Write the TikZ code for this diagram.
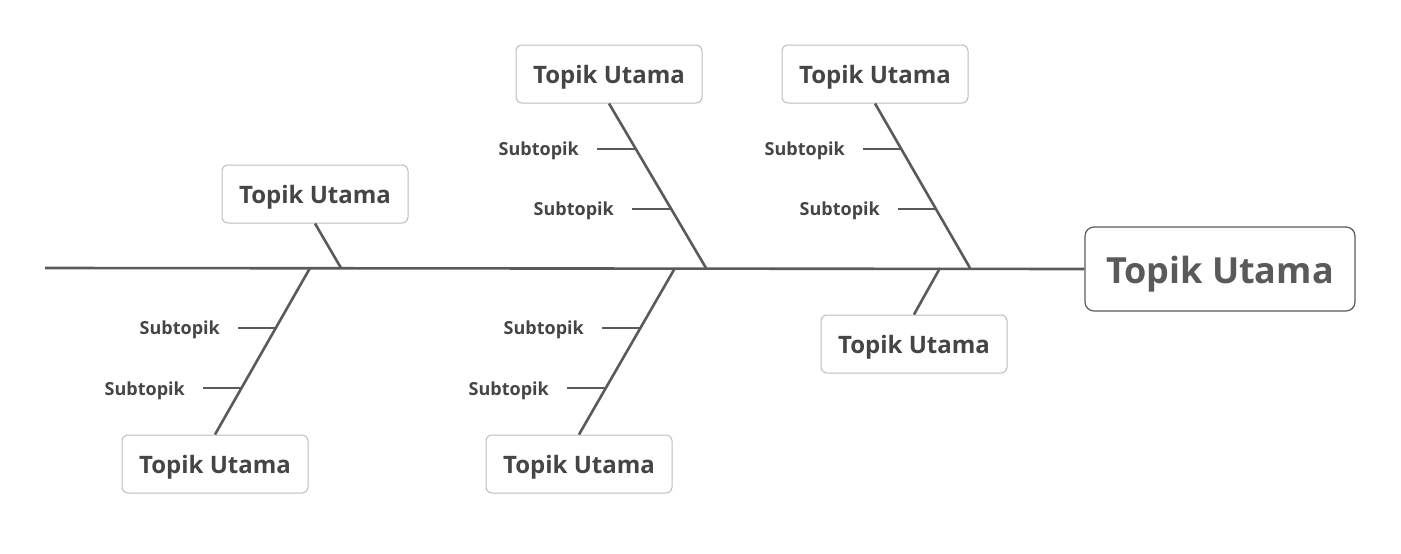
\documentclass[tikz,border=0pt]{standalone}
\usepackage{fontspec}
\setmainfont{Open Sans}
\definecolor{bone}{HTML}{5A5A5A}
\definecolor{txt}{HTML}{454545}
\definecolor{frame}{HTML}{BDBDBD}
\tikzset{
  topic/.style={draw=frame, rounded corners=6pt, fill=white, text=txt, font=\bfseries\fontsize{24}{28}\selectfont, minimum width=186pt, minimum height=58pt, line width=1pt, text height=24pt, text depth=5pt},
  head/.style={draw=bone, rounded corners=9pt, fill=white, text=bone, font=\bfseries\fontsize{36}{40}\selectfont, minimum width=270pt, minimum height=84pt, line width=1.2pt, text height=36pt, text depth=8pt},
  sub/.style={text=txt, font=\bfseries\fontsize{18}{20}\selectfont, anchor=east, inner sep=0pt},
  boneline/.style={draw=bone, line width=2.6pt},
}
\begin{document}
\begin{tikzpicture}[x=1pt, y=-1pt]
	\useasboundingbox (0,0) rectangle (1401,554);

	% spine and head
	\node [head] (H) at (1220,269) {Topik Utama};
	\coordinate (S) at (45,268);
	\draw [boneline] (S) -- (H.west);

	% main topics
	\node [topic] (T1) at (315,194) {Topik Utama};
	\node [topic] (T2) at (609,74) {Topik Utama};
	\node [topic] (T3) at (875,74) {Topik Utama};
	\node [topic] (T4) at (914,344) {Topik Utama};
	\node [topic] (T5) at (579,464) {Topik Utama};
	\node [topic] (T6) at (215,464) {Topik Utama};

	\coordinate (J1) at (341,268);
	\coordinate (J2) at (706,268);
	\coordinate (J3) at (970,268);
	\coordinate (J4) at (940,268);
	\coordinate (J5) at (675,268);
	\coordinate (J6) at (310,268);

	\draw [boneline] (T1.south) -- (J1);
	\draw [boneline] (T2.south) -- (J2);
	\draw [boneline] (T3.south) -- (J3);
	\draw [boneline] (T4.north) -- (J4);
	\draw [boneline] (T5.north) -- (J5);
	\draw [boneline] (T6.north) -- (J6);

	% subtopics
	\node [sub] (s2a) at (579,151) {Subtopik};
	\node [sub] (s2b) at (614,211) {Subtopik};
	\node [sub] (s3a) at (845,151) {Subtopik};
	\node [sub] (s3b) at (880,211) {Subtopik};
	\node [sub] (s5a) at (584,330) {Subtopik};
	\node [sub] (s5b) at (549,391) {Subtopik};
	\node [sub] (s6a) at (220,330) {Subtopik};
	\node [sub] (s6b) at (185,391) {Subtopik};

	\draw [boneline] (597,149) -- (636,149);
	\draw [boneline] (632,209) -- (670,209);
	\draw [boneline] (863,149) -- (901,149);
	\draw [boneline] (898,209) -- (935,209);
	\draw [boneline] (602,328) -- (641,328);
	\draw [boneline] (567,388) -- (606,388);
	\draw [boneline] (238,328) -- (276,328);
	\draw [boneline] (203,388) -- (241,388);
\end{tikzpicture}
\end{document}
